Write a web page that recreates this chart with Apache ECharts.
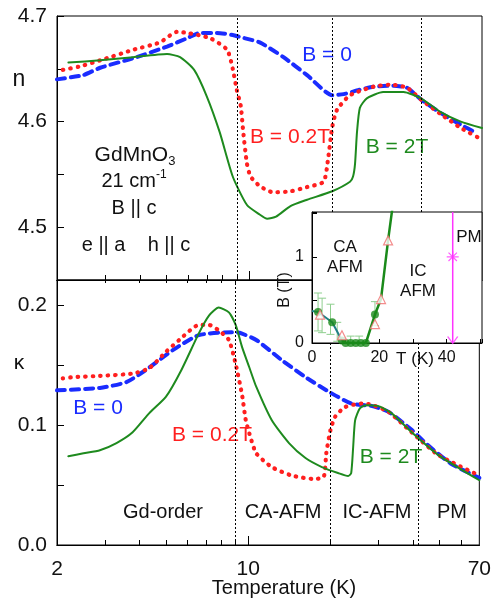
<!DOCTYPE html>
<html>
<head>
<meta charset="utf-8">
<script src="https://cdn.jsdelivr.net/npm/echarts@6/dist/echarts.min.js"></script>
<style>
  html, body { margin: 0; padding: 0; background: #fff; }
  #chart { width: 494px; height: 601px; }
</style>
</head>
<body>
<div id="chart"></div>
<script>
// transition temperatures (K), dotted lines
const tLines = [9, 20, 42]

// top panel: refractive index n
const nBlueT = [2, 2.49, 2.87, 3.78, 5.02, 5.94, 6.62, 7.6, 8.7, 9.27, 10.9, 13.3, 16.2, 20, 22, 25, 28.2, 33.4, 37.4, 42, 49.6, 58.6, 66]
const nBlue = [4.640, 4.644, 4.651, 4.660, 4.671, 4.679, 4.684, 4.684, 4.682, 4.680, 4.675, 4.661, 4.644, 4.625, 4.626, 4.630, 4.633, 4.634, 4.632, 4.621, 4.608, 4.597, 4.590]
const nRedT = [2.1, 2.4, 2.87, 3.78, 4.73, 5.46, 5.94, 7.2, 8.3, 8.7, 9.0, 9.3, 9.5, 9.8, 10.1, 10.9, 12.2, 14.1, 16.2, 18.6, 19.3, 20, 20.8, 23.2, 28.2, 32.6, 37.4, 42, 49.6, 58.6, 70]
const nRed = [4.649, 4.652, 4.658, 4.668, 4.675, 4.685, 4.684, 4.679, 4.668, 4.650, 4.630, 4.615, 4.590, 4.560, 4.548, 4.539, 4.533, 4.534, 4.538, 4.543, 4.564, 4.595, 4.611, 4.625, 4.633, 4.635, 4.632, 4.621, 4.607, 4.594, 4.583]
const nGreenT = [2.2, 2.87, 3.78, 5.02, 5.6, 6.3, 7.0, 7.8, 8.7, 9.8, 10.9, 11.6, 12.5, 14.1, 16.2, 20, 23.2, 23.8, 24.2, 24.6, 25.2, 26.7, 30.6, 36.3, 42, 49.6, 58.6, 70]
const nGreen = [4.656, 4.658, 4.661, 4.664, 4.661, 4.649, 4.624, 4.590, 4.548, 4.521, 4.512, 4.508, 4.510, 4.520, 4.526, 4.534, 4.543, 4.548, 4.560, 4.590, 4.613, 4.622, 4.628, 4.628, 4.622, 4.609, 4.600, 4.594]

// bottom panel: extinction kappa
const kBlueT = [2, 2.87, 3.6, 4.35, 5.3, 6.6, 8.7, 9.3, 10.7, 13.3, 16.2, 20, 23.8, 28.2, 32.6, 39.6, 44.5, 55, 70]
const kBlue = [0.129, 0.131, 0.136, 0.148, 0.1625, 0.175, 0.1775, 0.177, 0.171, 0.154, 0.140, 0.127, 0.118, 0.116, 0.111, 0.096, 0.085, 0.068, 0.056]
const kRedT = [2.1, 2.3, 2.87, 3.78, 4.35, 5.0, 5.6, 6.6, 7.2, 7.8, 8.5, 9.0, 9.5, 9.8, 10.1, 10.7, 12.2, 14.4, 17.5, 18.9, 19.3, 20, 20.8, 22.6, 26, 28.2, 32.6, 39.6, 49.6, 70]
const kRed = [0.139, 0.140, 0.141, 0.143, 0.1475, 0.161, 0.171, 0.1835, 0.1835, 0.179, 0.171, 0.151, 0.125, 0.104, 0.093, 0.0765, 0.065, 0.058, 0.055, 0.057, 0.0765, 0.096, 0.107, 0.115, 0.118, 0.117, 0.111, 0.094, 0.075, 0.058]
const kGreenT = [2.2, 2.5, 2.87, 3.3, 3.78, 4.35, 5.0, 5.7, 6.6, 7.2, 7.8, 8.5, 9.0, 9.5, 10.1, 10.7, 12.2, 14.1, 16.2, 18.6, 21.3, 23.2, 23.8, 24.2, 24.6, 25.6, 27, 29.8, 33.4, 39.6, 49.6, 70]
const kGreen = [0.074, 0.0765, 0.079, 0.085, 0.094, 0.110, 0.1235, 0.146, 0.1765, 0.1915, 0.198, 0.194, 0.1835, 0.165, 0.148, 0.132, 0.104, 0.085, 0.0725, 0.065, 0.060, 0.0575, 0.060, 0.0815, 0.104, 0.114, 0.1165, 0.116, 0.110, 0.094, 0.075, 0.054]

// inset: phase diagram B(T)
const bTealT = [0, 1.8, 6, 8.9]
const bTeal = [0.37, 0.36, 0.24, 0.03]
const bLineT = [8.9, 10, 16, 18.7, 20.5, 22.6, 24]
const bLine = [0.03, 0, 0, 0.33, 0.51, 1.19, 1.6]
const bDotT = [1.8, 6, 8.9, 10, 11.5, 13, 14.5, 16, 18.7]
const bDot = [0.36, 0.24, 0.03, 0, 0, 0, 0, 0, 0.33]
const bTriT = [2.4, 8.9, 18.7, 20.5, 22.6]
const bTri = [0.33, 0.09, 0.22, 0.51, 1.19]
const errT = [1.8, 3.0, 5.5, 7.5, 11.5, 14, 18.7]
const errLo = [0.14, 0.12, 0.10, 0.02, 0, 0, 0.20]
const errHi = [0.58, 0.52, 0.45, 0.24, 0.08, 0.08, 0.48]
const pmT = 41.8
const pmTop = 1.52
const pmStar = 1.0

// axis ticks
const xMajorTicks = [10]
const xMinorTicks = [3, 4, 5, 6, 7, 8, 9, 20, 30, 40, 50, 60]
const xLabels = [2, 10, 70]
const insetXLabels = [0, 20, 40]
const insetYLabels = [0, 1]

const BLUE = '#1a2cff'
const RED = '#ff1f1f'
const GREEN = '#1e8a1e'
const MAGENTA = '#ff33ff'
const FONT = 'Arial, "Liberation Sans", sans-serif'

const pairs = (xs, ys) => xs.map((x, i) => [x, ys[i]])

const chart = echarts.init(document.getElementById('chart'))

const vLineMark = {
  symbol: 'none',
  silent: true,
  animation: false,
  label: {show: false},
  lineStyle: {color: '#000', type: [2, 2], width: 1},
  data: tLines.map(t => ({xAxis: t}))
}

function mainX(gridIndex, position, ticks, len, labels) {
  return {
    type: 'log',
    gridIndex,
    position,
    min: 2,
    max: 70,
    axisLine: {show: true, lineStyle: {color: '#000', width: 1}},
    axisTick: {show: true, inside: true, length: len, customValues: ticks, lineStyle: {color: '#000'}},
    axisLabel: {show: !!labels, customValues: labels || [], fontSize: 21, color: '#111', fontFamily: FONT, margin: 14},
    splitLine: {show: false},
    minorTick: {show: false},
    minorSplitLine: {show: false}
  }
}

function lineSeries(x, y, data, color, style, width) {
  return {
    type: 'line',
    xAxisIndex: x,
    yAxisIndex: y,
    data,
    showSymbol: false,
    smooth: 0.2,
    lineStyle: {color, width, type: style, cap: 'round'},
    animation: false,
    silent: true
  }
}

const dash = [8, 6]
const dots = [0.5, 7]

const tickFmt = v => Math.abs(v * 10 - Math.round(v * 10)) < 1e-6 ? v.toFixed(1) : ''

function txt(x, y, text, size, color, extra) {
  return Object.assign({
    type: 'text', x, y,
    style: {text, font: size + 'px ' + FONT, fill: color || '#111', align: 'center', verticalAlign: 'middle'}
  }, extra || {})
}

const option = {
  backgroundColor: '#fff',
  animation: false,
  grid: [
    {left: 57, top: 16, width: 425, height: 264, show: true, borderColor: '#000', borderWidth: 1},
    {left: 57, top: 280, width: 425, height: 265, show: true, borderColor: '#000', borderWidth: 1},
    {left: 312, top: 212, width: 170, height: 131, show: true, backgroundColor: '#fff', borderColor: '#000', borderWidth: 1, zlevel: 1, z: 10}
  ],
  xAxis: [
    mainX(0, 'bottom', xMajorTicks, 9),
    mainX(0, 'bottom', xMinorTicks, 5),
    mainX(1, 'bottom', xMajorTicks, 9, xLabels),
    mainX(1, 'bottom', xMinorTicks, 5),
    mainX(1, 'top', xMinorTicks, 3),
    {
      type: 'value', gridIndex: 2, min: 0, max: 50.5, interval: 10, zlevel: 1, z: 10,
      axisLine: {lineStyle: {color: '#000'}},
      axisTick: {inside: true, length: 4, lineStyle: {color: '#000'}},
      axisLabel: {customValues: insetXLabels, fontSize: 16, color: '#111', fontFamily: FONT, margin: 7},
      splitLine: {show: false}
    }
  ],
  yAxis: [
    {
      type: 'value', gridIndex: 0, min: 4.45, max: 4.7, interval: 0.05,
      axisLine: {show: true, lineStyle: {color: '#000'}},
      axisTick: {show: true, inside: true, length: 7, lineStyle: {color: '#000'}},
      axisLabel: {fontSize: 21, color: '#111', fontFamily: FONT, margin: 10, formatter: tickFmt},
      splitLine: {show: false}
    },
    {
      type: 'value', gridIndex: 1, min: 0, max: 0.221, interval: 0.05,
      axisLine: {show: true, lineStyle: {color: '#000'}},
      axisTick: {show: true, inside: true, length: 7, lineStyle: {color: '#000'}},
      axisLabel: {fontSize: 21, color: '#111', fontFamily: FONT, margin: 10, showMaxLabel: false, formatter: tickFmt},
      splitLine: {show: false}
    },
    {
      type: 'value', gridIndex: 2, min: 0, max: 1.52, interval: 0.5, zlevel: 1, z: 10,
      axisLine: {lineStyle: {color: '#000'}},
      axisTick: {inside: true, length: 5, lineStyle: {color: '#000'}},
      axisLabel: {customValues: insetYLabels, fontSize: 16, color: '#111', fontFamily: FONT, margin: 8},
      splitLine: {show: false}
    }
  ],
  series: [
    Object.assign(lineSeries(0, 0, pairs(nBlueT, nBlue), BLUE, dash, 4), {markLine: vLineMark}),
    lineSeries(0, 0, pairs(nRedT, nRed), RED, dots, 4.2),
    lineSeries(0, 0, pairs(nGreenT, nGreen), GREEN, 'solid', 2),
    Object.assign(lineSeries(2, 1, pairs(kBlueT, kBlue), BLUE, dash, 4), {markLine: vLineMark}),
    lineSeries(2, 1, pairs(kRedT, kRed), RED, dots, 4.2),
    lineSeries(2, 1, pairs(kGreenT, kGreen), GREEN, 'solid', 2),
    // inset
    {
      type: 'custom', xAxisIndex: 5, yAxisIndex: 2, zlevel: 1, z: 11, silent: true,
      data: errT.map((t, i) => [t, errLo[i], errHi[i]]),
      encode: {x: 0, y: [1, 2]},
      renderItem: (params, api) => {
        const lo = api.coord([api.value(0), api.value(1)])
        const hi = api.coord([api.value(0), api.value(2)])
        const w = 4
        const st = {stroke: '#8fcf8f', lineWidth: 1}
        return {
          type: 'group',
          children: [
            {type: 'line', shape: {x1: lo[0], y1: lo[1], x2: hi[0], y2: hi[1]}, style: st},
            {type: 'line', shape: {x1: lo[0] - w, y1: lo[1], x2: lo[0] + w, y2: lo[1]}, style: st},
            {type: 'line', shape: {x1: hi[0] - w, y1: hi[1], x2: hi[0] + w, y2: hi[1]}, style: st}
          ]
        }
      }
    },
    {
      type: 'line', xAxisIndex: 5, yAxisIndex: 2, zlevel: 1, z: 12, silent: true,
      data: pairs(bTealT, bTeal), showSymbol: false,
      lineStyle: {color: '#1f7f86', width: 2}
    },
    {
      type: 'line', xAxisIndex: 5, yAxisIndex: 2, zlevel: 1, z: 12, silent: true,
      data: pairs(bLineT, bLine), showSymbol: false,
      lineStyle: {color: '#1a8a1a', width: 2.5}
    },
    {
      type: 'scatter', xAxisIndex: 5, yAxisIndex: 2, zlevel: 1, z: 13, silent: true,
      data: pairs(bDotT, bDot), symbol: 'circle', symbolSize: 8,
      itemStyle: {color: '#1a8a1a'}
    },
    {
      type: 'scatter', xAxisIndex: 5, yAxisIndex: 2, zlevel: 1, z: 14, silent: true,
      data: pairs(bTriT, bTri), symbol: 'triangle', symbolSize: 9,
      itemStyle: {color: '#fff', borderColor: '#f07070', borderWidth: 1.2}
    },
    {
      type: 'line', xAxisIndex: 5, yAxisIndex: 2, zlevel: 1, z: 12, silent: true,
      data: [[pmT, 0], [pmT, pmTop]], showSymbol: false,
      lineStyle: {color: MAGENTA, width: 1.5}
    },
    {
      type: 'scatter', xAxisIndex: 5, yAxisIndex: 2, zlevel: 1, z: 13, silent: true,
      data: [[pmT, pmStar]],
      symbol: 'path://M0,-6L0,6M-6,0L6,0M-4.2,-4.2L4.2,4.2M-4.2,4.2L4.2,-4.2',
      symbolSize: 12,
      itemStyle: {color: 'none', borderColor: MAGENTA, borderWidth: 1.2}
    },
    {
      type: 'scatter', xAxisIndex: 5, yAxisIndex: 2, zlevel: 1, z: 13, silent: true,
      data: [[pmT, 0]],
      symbol: 'path://M-5,-6L0,0L5,-6',
      symbolSize: [10, 7],
      symbolOffset: [0, -3],
      itemStyle: {color: 'none', borderColor: MAGENTA, borderWidth: 1.2}
    }
  ],
  graphic: [
    txt(19, 80, 'n', 23),
    txt(19, 363, 'κ', 21),
    {type: 'text', x: 135, y: 155, style: {
      text: '{a|GdMnO}{s|3}', align: 'center', verticalAlign: 'middle',
      rich: {a: {fontSize: 21, fontFamily: FONT, fill: '#111'}, s: {fontSize: 13, fontFamily: FONT, fill: '#111', padding: [12, 0, 0, 0]}}
    }},
    {type: 'text', x: 134, y: 181, style: {
      text: '{a|21 cm}{s|-1}', align: 'center', verticalAlign: 'middle',
      rich: {a: {fontSize: 20, fontFamily: FONT, fill: '#111'}, s: {fontSize: 12, fontFamily: FONT, fill: '#111', padding: [0, 0, 12, 0]}}
    }},
    txt(134, 208, 'B || c', 20),
    txt(136, 245, 'e || a    h || c', 20),
    txt(327, 55, 'B = 0', 21, BLUE),
    txt(290, 137, 'B = 0.2T', 21, RED),
    txt(397, 147, 'B = 2T', 21, GREEN),
    txt(98, 408, 'B = 0', 21, BLUE),
    txt(212, 435, 'B = 0.2T', 21, RED),
    txt(391, 457, 'B = 2T', 21, GREEN),
    txt(163, 512, 'Gd-order', 20),
    txt(283, 512, 'CA-AFM', 20),
    txt(377, 512, 'IC-AFM', 20),
    txt(452, 512, 'PM', 20),
    txt(284, 588, 'Temperature (K)', 20),
    // inset texts
    txt(345, 247, 'CA', 17, null, {zlevel: 1, z: 100}),
    txt(345, 267, 'AFM', 17, null, {zlevel: 1, z: 100}),
    txt(418, 271, 'IC', 17, null, {zlevel: 1, z: 100}),
    txt(418, 291, 'AFM', 17, null, {zlevel: 1, z: 100}),
    txt(469, 237, 'PM', 17, null, {zlevel: 1, z: 100}),
    txt(415, 359, 'T (K)', 17, null, {zlevel: 1, z: 100}),
    txt(285, 290, 'B (T)', 16, null, {zlevel: 1, z: 100, rotation: Math.PI / 2})
  ]
}

chart.setOption(option)
</script>
</body>
</html>
